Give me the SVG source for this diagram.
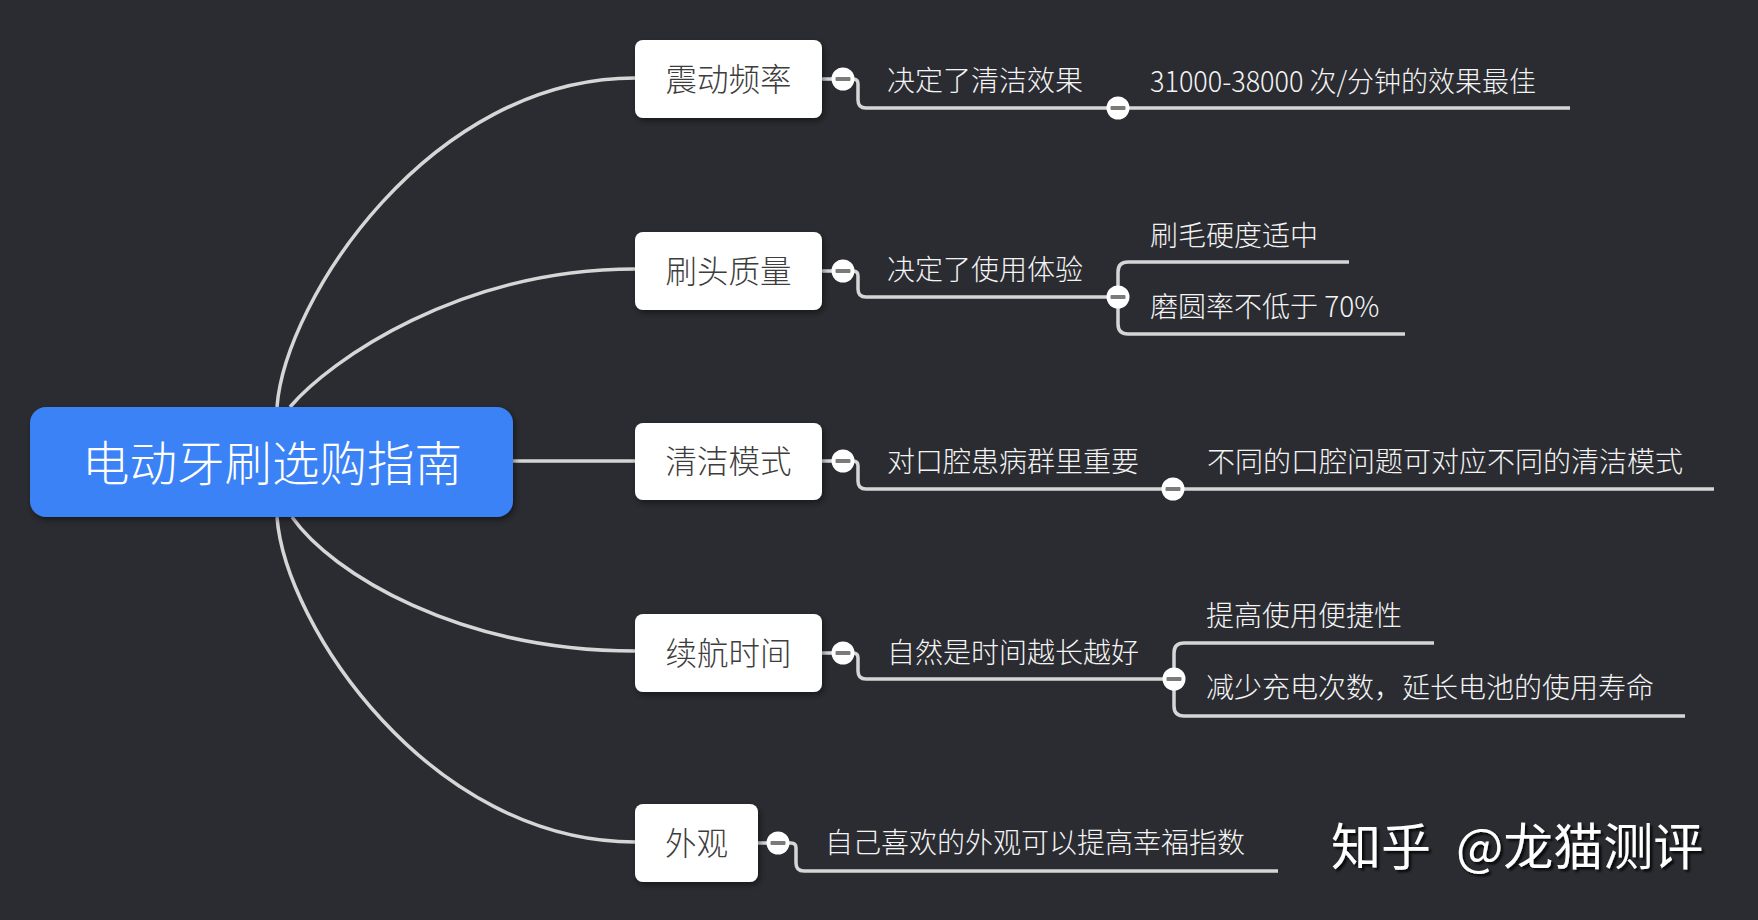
<svg xmlns="http://www.w3.org/2000/svg" width="1758" height="920" viewBox="0 0 1758 920">
<defs>
<style>
.bg{fill:#2b2c31}
.ln{fill:none;stroke:#d6d6d6;stroke-width:3.5;stroke-linecap:butt}
.root{fill:#3b82f6}
.box{fill:#ffffff}
.t{font-family:"Noto Sans CJK SC","Noto Sans",sans-serif;dominant-baseline:central}
.rt{font-size:47.5px;fill:#ffffff;text-anchor:middle;font-weight:300}
.nt{font-size:31.5px;fill:#3d3d3d;text-anchor:middle;font-weight:300}
.st{font-size:28px;fill:#f4f4f4;font-weight:300}
.wm{font-size:50px;fill:#ffffff;font-weight:400}
.cc{fill:#ffffff}
.mi{fill:#7a7a7a}
</style>
<filter id="sh" x="-20%" y="-20%" width="140%" height="150%">
<feDropShadow dx="2" dy="3" stdDeviation="3" flood-color="#000" flood-opacity="0.45"/>
</filter>
<filter id="tsh" x="-10%" y="-20%" width="120%" height="150%">
<feDropShadow dx="2.5" dy="2.5" stdDeviation="1" flood-color="#000" flood-opacity="0.8"/>
</filter>
<g id="tog"><circle class="cc" r="11.5"/><rect class="mi" x="-7.5" y="-2" width="15" height="4" rx="1"/></g>
</defs>
<rect class="bg" x="0" y="0" width="1758" height="920"/>

<g id="connectors">
<path class="ln" d="M277,407 C285,300 430,78 635,78"/>
<path class="ln" d="M290,407 C330,360 460,269 635,269"/>
<path class="ln" d="M513,461 H635"/>
<path class="ln" d="M292,517 C332,574 460,651 635,651"/>
<path class="ln" d="M277,517 C285,625 430,842 635,842"/>

<path class="ln" d="M822,79 H853 Q858,79 858,84 V100 Q858,108 866,108 H1570"/>
<path class="ln" d="M822,271 H853 Q858,271 858,276 V289 Q858,297 866,297 H1118"/>
<path class="ln" d="M1349,262 H1128 Q1118,262 1118,272 V324 Q1118,334 1128,334 H1405"/>
<path class="ln" d="M822,461 H853 Q858,461 858,466 V481 Q858,489 866,489 H1714"/>
<path class="ln" d="M822,653 H853 Q858,653 858,658 V671 Q858,679 866,679 H1174"/>
<path class="ln" d="M1434,643 H1184 Q1174,643 1174,653 V706 Q1174,716 1184,716 H1685"/>
<path class="ln" d="M758,843 H791 Q796,843 796,848 V863 Q796,871 804,871 H1278"/>

<use href="#tog" x="843" y="79"/>
<use href="#tog" x="1118" y="108"/>
<use href="#tog" x="843" y="271"/>
<use href="#tog" x="1118" y="297"/>
<use href="#tog" x="843" y="461"/>
<use href="#tog" x="1173" y="489"/>
<use href="#tog" x="843" y="653"/>
<use href="#tog" x="1174" y="679"/>
<use href="#tog" x="778" y="843"/>
</g>

<g id="root">
<rect class="root" x="30" y="407" width="483" height="110" rx="16" filter="url(#sh)"/>
<text class="t rt" x="272" y="460">电动牙刷选购指南</text>
</g>

<g id="n1">
<rect class="box" x="635" y="40" width="187" height="78" rx="8" filter="url(#sh)"/>
<text class="t nt" x="728.5" y="77">震动频率</text>
</g>
<g id="n2">
<rect class="box" x="635" y="232" width="187" height="78" rx="8" filter="url(#sh)"/>
<text class="t nt" x="728.5" y="269">刷头质量</text>
</g>
<g id="n3">
<rect class="box" x="635" y="423" width="187" height="77" rx="8" filter="url(#sh)"/>
<text class="t nt" x="728.5" y="459">清洁模式</text>
</g>
<g id="n4">
<rect class="box" x="635" y="614" width="187" height="78" rx="8" filter="url(#sh)"/>
<text class="t nt" x="728.5" y="651">续航时间</text>
</g>
<g id="n5">
<rect class="box" x="635" y="804" width="123" height="78" rx="8" filter="url(#sh)"/>
<text class="t nt" x="696.5" y="841">外观</text>
</g>

<g id="s1"><text class="t st" x="887" y="79">决定了清洁效果</text></g>
<g id="s1a"><text class="t st" x="1150" y="80" textLength="386" lengthAdjust="spacingAndGlyphs">31000-38000 次/分钟的效果最佳</text></g>
<g id="s2"><text class="t st" x="887" y="268">决定了使用体验</text></g>
<g id="s2a"><text class="t st" x="1150" y="234">刷毛硬度适中</text></g>
<g id="s2b"><text class="t st" x="1150" y="305">磨圆率不低于 70%</text></g>
<g id="s3"><text class="t st" x="887" y="460">对口腔患病群里重要</text></g>
<g id="s3a"><text class="t st" x="1207" y="460">不同的口腔问题可对应不同的清洁模式</text></g>
<g id="s4"><text class="t st" x="887" y="651">自然是时间越长越好</text></g>
<g id="s4a"><text class="t st" x="1206" y="614">提高使用便捷性</text></g>
<g id="s4b"><text class="t st" x="1206" y="686">减少充电次数，延长电池的使用寿命</text></g>
<g id="s5"><text class="t st" x="825" y="841">自己喜欢的外观可以提高幸福指数</text></g>

<g id="watermark">
<text class="t wm" y="843" filter="url(#tsh)"><tspan x="1331">知乎</tspan><tspan x="1456">@龙猫测评</tspan></text>
</g>
</svg>
